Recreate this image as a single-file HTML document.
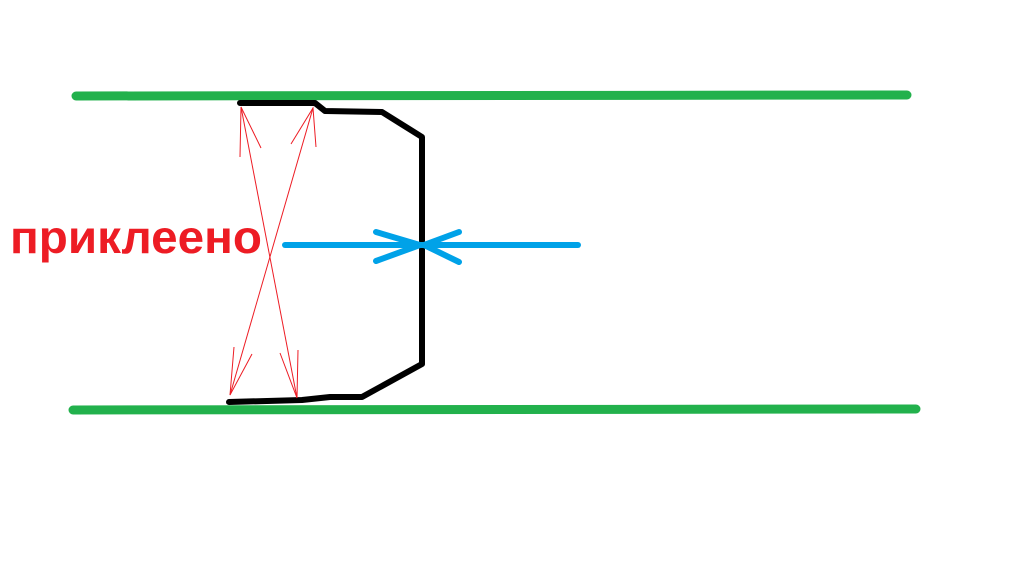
<!DOCTYPE html>
<html><head><meta charset="utf-8"><style>html,body{margin:0;padding:0;background:#fff;width:1018px;height:572px;overflow:hidden}</style></head>
<body>
<svg width="1018" height="572" xmlns="http://www.w3.org/2000/svg">
<g stroke="#22b14c" stroke-width="9" stroke-linecap="round">
<line x1="76" y1="96" x2="907" y2="95"/>
<line x1="73" y1="410" x2="916" y2="409"/>
</g>
<polyline points="240,103 315,103 325,111 382,112 422,137 422,364 362,397 330,397 302,400 229,402" fill="none" stroke="#000" stroke-width="6" stroke-linejoin="round" stroke-linecap="round"/>
<g stroke="#ed1c24" stroke-width="1" fill="none">
<line x1="241" y1="107" x2="297" y2="398"/>
<line x1="313" y1="108" x2="230" y2="395"/>
<polyline points="240,157 241,107 261,148"/>
<polyline points="316,147 313,108 291,144"/>
<polyline points="234,347 230,395 252,354"/>
<polyline points="298,350 297,398 280,353"/>
</g>
<g stroke="#00a2e8" stroke-width="6" stroke-linecap="round" fill="none">
<line x1="285" y1="245" x2="578" y2="245"/>
<polyline points="376,232 420,245 376,261"/>
<polyline points="459,232 424,245 459,262"/>
</g>
<text x="10" y="253" font-family="Liberation Sans, sans-serif" font-weight="bold" font-size="46" fill="#ed1c24" textLength="252" lengthAdjust="spacingAndGlyphs">приклеено</text>
</svg>
</body></html>
